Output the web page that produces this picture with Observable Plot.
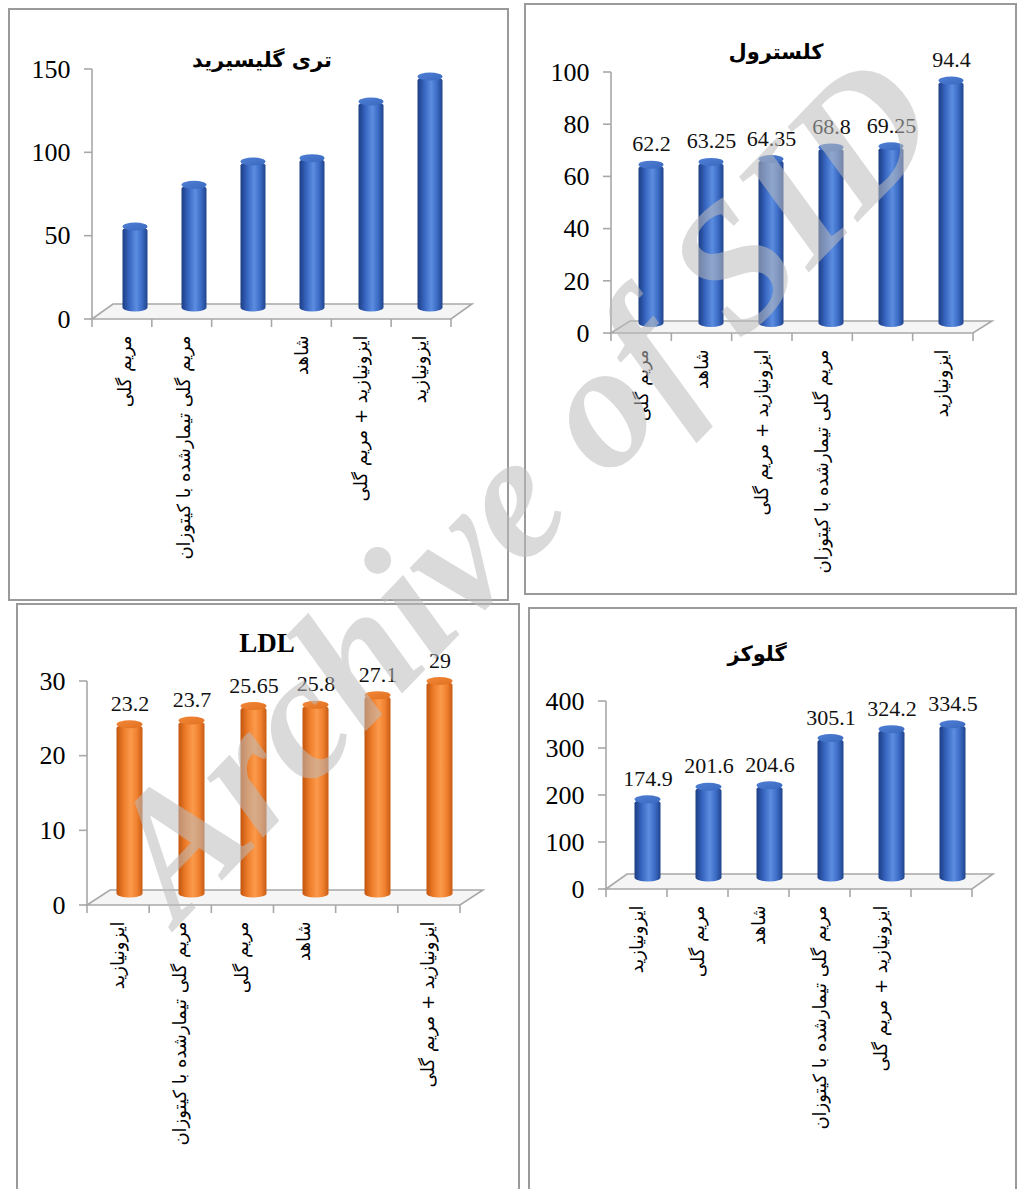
<!DOCTYPE html>
<html><head><meta charset="utf-8">
<script src="https://cdn.jsdelivr.net/npm/d3@7"></script>
<script src="https://cdn.jsdelivr.net/npm/@observablehq/plot@0.6"></script>
<style>
html,body{margin:0;padding:0;background:#fff;width:1018px;height:1189px;overflow:hidden;}
#root{position:relative;width:1018px;height:1189px;overflow:hidden;}
.panel{position:absolute;border:2px solid #9a9a9a;box-sizing:border-box;}
.title{position:absolute;transform:translate(-50%,-50%);white-space:nowrap;font-weight:bold;color:#000;line-height:1;}
.chart{position:absolute;}
.chart svg{overflow:visible;}
#wm{position:absolute;left:0;top:0;pointer-events:none;}
</style></head><body>
<svg width="0" height="0" style="position:absolute">
<defs>
<linearGradient id="blueBody" x1="0" x2="1" y1="0" y2="0">
 <stop offset="0" stop-color="#1c3d84"/>
 <stop offset="0.28" stop-color="#3867c2"/>
 <stop offset="0.55" stop-color="#5b8de0"/>
 <stop offset="0.78" stop-color="#3c6cc6"/>
 <stop offset="1" stop-color="#20448c"/>
</linearGradient>
<linearGradient id="blueTop" x1="0" x2="1" y1="0" y2="1">
 <stop offset="0" stop-color="#4f7fd4"/>
 <stop offset="1" stop-color="#3a69c0"/>
</linearGradient>
<linearGradient id="orangeBody" x1="0" x2="1" y1="0" y2="0">
 <stop offset="0" stop-color="#c2560f"/>
 <stop offset="0.28" stop-color="#ee7d2a"/>
 <stop offset="0.55" stop-color="#fb9a4c"/>
 <stop offset="0.78" stop-color="#f0812f"/>
 <stop offset="1" stop-color="#c85c14"/>
</linearGradient>
<linearGradient id="orangeTop" x1="0" x2="1" y1="0" y2="1">
 <stop offset="0" stop-color="#f3883a"/>
 <stop offset="1" stop-color="#e0701f"/>
</linearGradient>
</defs></svg>
<div id="root"></div>
<script>
// ---------- data ----------
const tgTitle = "تری گلیسیرید";
const tgLabels = ["مریم گلی", "مریم گلی تیمارشده با کیتوزان", "", "شاهد", "ایزونیازید + مریم گلی", "ایزونیازید"];
const tgValues = [51, 76, 90, 92, 126, 141];
const tgTicks = [0, 50, 100, 150];

const cholTitle = "کلسترول";
const cholLabels = ["مریم گلی", "شاهد", "ایزونیازید + مریم گلی", "مریم گلی تیمارشده با کیتوزان", "", "ایزونیازید"];
const cholValues = [62.2, 63.25, 64.35, 68.8, 69.25, 94.4];
const cholTicks = [0, 20, 40, 60, 80, 100];

const ldlTitle = "LDL";
const ldlLabels = ["ایزونیازید", "مریم گلی تیمارشده با کیتوزان", "مریم گلی", "شاهد", "", "ایزونیازید + مریم گلی"];
const ldlValues = [23.2, 23.7, 25.65, 25.8, 27.1, 29];
const ldlTicks = [0, 10, 20, 30];

const gluTitle = "گلوکز";
const gluLabels = ["ایزونیازید", "مریم گلی", "شاهد", "مریم گلی تیمارشده با کیتوزان", "ایزونیازید + مریم گلی", ""];
const gluValues = [174.9, 201.6, 204.6, 305.1, 324.2, 334.5];
const gluTicks = [0, 100, 200, 300, 400];

const watermarkText = "Archive of SID";

// ---------- drawing ----------
const root = document.getElementById("root");
const PERSIAN = "'DejaVu Sans', 'Noto Sans', sans-serif";
const SERIF = "'Liberation Serif', 'DejaVu Serif', serif";

function addPanel(box) {
  const d = document.createElement("div");
  d.className = "panel";
  Object.assign(d.style, {left: box[0] + "px", top: box[1] + "px", width: (box[2] - box[0]) + "px", height: (box[3] - box[1]) + "px"});
  root.appendChild(d);
}
function addTitle(text, cx, cy, font, size) {
  const d = document.createElement("div");
  d.className = "title";
  d.textContent = text;
  Object.assign(d.style, {left: cx + "px", top: cy + "px", fontFamily: font, fontSize: size + "px"});
  root.appendChild(d);
}

function makeChart(cfg) {
  const {labels, values, ticks, showValues, body, top, svgBox, axisX0, axisX1, yTopPx, yZeroPx, depth} = cfg;
  const [ddx, ddy] = depth;
  const yMax = ticks[ticks.length - 1];
  const data = labels.map((l, i) => ({key: i, label: l, value: values[i]}));
  const [sl, st, sw, sh] = svgBox;
  const marginLeft = axisX0 - sl;
  const marginRight = sl + sw - axisX1;
  const marginTop = yTopPx - st;
  const marginBottom = st + sh - yZeroPx;

  const frame3d = (index, scales, vals, dim) => {
    const g = d3.create("svg:g");
    const x0 = dim.marginLeft, x1 = dim.width - dim.marginRight;
    const yb = scales.y(0), yt = scales.y(yMax);
    g.append("path")
      .attr("d", `M${x0},${yb}L${x0 + ddx},${yb + ddy}L${x1 + ddx},${yb + ddy}L${x1},${yb}Z`)
      .attr("fill", "#f5f5f5").attr("stroke", "#a8a8a8").attr("stroke-width", 1.6);
    g.append("line").attr("x1", x0).attr("x2", x0).attr("y1", yt).attr("y2", yb)
      .attr("stroke", "#a8a8a8").attr("stroke-width", 1.6);
    for (const t of ticks) {
      g.append("line").attr("x1", x0 - 8).attr("x2", x0).attr("y1", scales.y(t)).attr("y2", scales.y(t))
        .attr("stroke", "#a8a8a8").attr("stroke-width", 1.6);
    }
    const n = labels.length, step = (x1 - x0) / n;
    for (let i = 0; i <= n; i++) {
      const x = x0 + i * step;
      g.append("line").attr("x1", x).attr("x2", x).attr("y1", yb).attr("y2", yb + 8)
        .attr("stroke", "#a8a8a8").attr("stroke-width", 1.6);
    }
    return g.node();
  };

  const marks = [
    frame3d,
    Plot.axisY({ticks, tickSize: 0, tickPadding: 22, fontSize: 26, fontFamily: SERIF, fill: "#000", label: null, tickFormat: d => String(d)}),
    Plot.axisX({tickSize: 0, tickPadding: 16, tickRotate: -90, fontSize: 18, fontFamily: PERSIAN, fill: "#000", label: null, tickFormat: k => labels[k]}),
    Plot.barY(data, {x: "key", y: "value", fill: `url(#${body})`, dx: ddx / 2, dy: ddy / 2, rx: 20, ry: 4}),
    Plot.barY(data, {x: "key", y1: "value", y2: "value", fill: `url(#${top})`, dx: ddx / 2, dy: ddy / 2, insetTop: -4, insetBottom: -4, rx: 20, ry: 4})
  ];
  if (showValues) {
    marks.push(Plot.text(data, {x: "key", y: "value", text: d => String(d.value), dx: ddx / 2, dy: ddy / 2 - 21,
      fontSize: 22, fontFamily: SERIF, fill: "#111"}));
  }
  const svg = Plot.plot({
    width: sw, height: sh, marginLeft, marginRight, marginTop, marginBottom,
    x: {type: "band", domain: data.map(d => d.key), paddingInner: 0.58, paddingOuter: 0.29, axis: null, label: null},
    y: {domain: [0, yMax], axis: null, label: null},
    style: {background: "transparent", overflow: "visible"},
    marks
  });
  const holder = document.createElement("div");
  holder.className = "chart";
  Object.assign(holder.style, {left: sl + "px", top: st + "px"});
  holder.appendChild(svg);
  root.appendChild(holder);
}

// panels
addPanel([8, 8, 509, 601]);
addPanel([524, 3, 1017, 595]);
addPanel([16, 603, 520, 1200]);
addPanel([528, 607, 1017, 1200]);

makeChart({labels: tgLabels, values: tgValues, ticks: tgTicks, showValues: false, body: "blueBody", top: "blueTop",
  svgBox: [8, 8, 500, 592], axisX0: 92, axisX1: 451, yTopPx: 69, yZeroPx: 319, depth: [21, -15]});
makeChart({labels: cholLabels, values: cholValues, ticks: cholTicks, showValues: true, body: "blueBody", top: "blueTop",
  svgBox: [524, 3, 492, 591], axisX0: 611, axisX1: 973, yTopPx: 72, yZeroPx: 333, depth: [19, -12]});
makeChart({labels: ldlLabels, values: ldlValues, ticks: ldlTicks, showValues: true, body: "orangeBody", top: "orangeTop",
  svgBox: [16, 603, 503, 592], axisX0: 87, axisX1: 460, yTopPx: 681, yZeroPx: 905, depth: [23, -15]});
makeChart({labels: gluLabels, values: gluValues, ticks: gluTicks, showValues: true, body: "blueBody", top: "blueTop",
  svgBox: [528, 607, 488, 588], axisX0: 606, axisX1: 972, yTopPx: 701, yZeroPx: 889, depth: [21, -15]});

addTitle(tgTitle, 262, 60, PERSIAN, 21);
addTitle(cholTitle, 776, 52, PERSIAN, 21);
addTitle(ldlTitle, 267, 643, SERIF, 27);
addTitle(gluTitle, 757, 654, PERSIAN, 21);

// watermark
const wm = d3.select(root).append("svg").attr("id", "wm").attr("width", 1018).attr("height", 1189);
wm.append("text").text(watermarkText)
  .attr("transform", "translate(518,484) rotate(-46)")
  .attr("text-anchor", "middle").attr("dy", "0.35em")
  .attr("font-family", SERIF).attr("font-weight", "bold").attr("font-style", "italic")
  .attr("font-size", 178).attr("fill", "#bcbcbc").attr("fill-opacity", 0.55);
</script>
</body></html>
